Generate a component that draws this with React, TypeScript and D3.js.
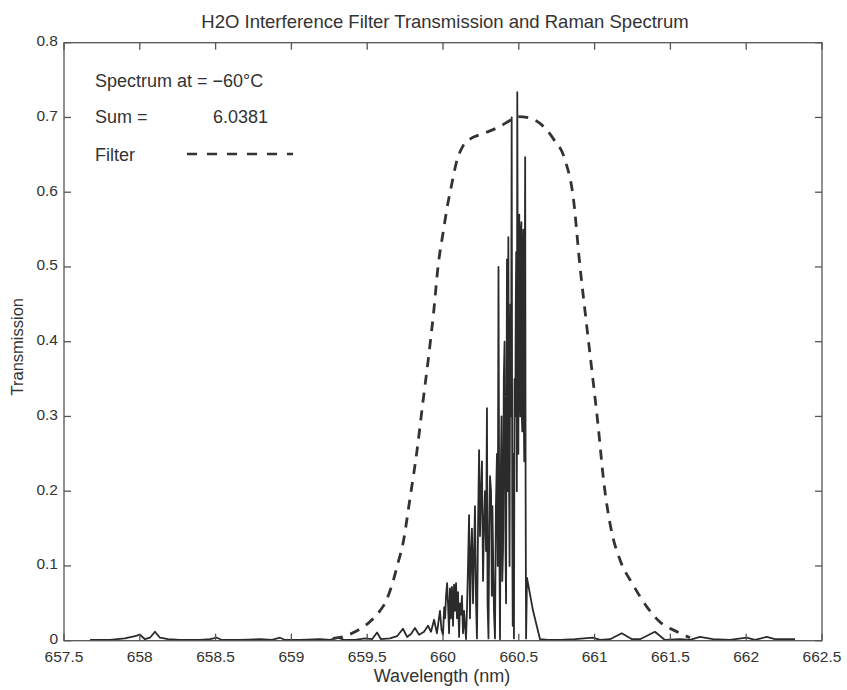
import React from "react";
import * as d3 from "d3";

const title = "H2O Interference Filter Transmission and Raman Spectrum";
const xLabel = "Wavelength (nm)";
const yLabel = "Transmission";
const legendLines = ["Spectrum at = \u221260\u00b0C", "Sum =", "Filter"];
const sumValue = "6.0381";

const xTicks = [657.5, 658, 658.5, 659, 659.5, 660, 660.5, 661, 661.5, 662, 662.5];
const yTicks = [0, 0.1, 0.2, 0.3, 0.4, 0.5, 0.6, 0.7, 0.8];

// Raman spectrum: [wavelength (nm), transmission]
const spectrum: [number, number][] = [
  [657.672, 0.001], [657.803, 0.001], [657.902, 0.003], [657.968, 0.006], [658.001, 0.008],
  [658.034, 0.002], [658.067, 0.004], [658.100, 0.012], [658.133, 0.004], [658.186, 0.002],
  [658.265, 0.001], [658.397, 0.001], [658.463, 0.002], [658.509, 0.004], [658.542, 0.001],
  [658.661, 0.001], [658.793, 0.002], [658.872, 0.001], [658.925, 0.004], [658.958, 0.001],
  [659.057, 0.001], [659.189, 0.002], [659.255, 0.001], [659.307, 0.004], [659.347, 0.001],
  [659.420, 0.001], [659.486, 0.003], [659.532, 0.002], [659.565, 0.011], [659.591, 0.002],
  [659.650, 0.003], [659.697, 0.006], [659.736, 0.016], [659.763, 0.005], [659.789, 0.009],
  [659.815, 0.017], [659.842, 0.008], [659.875, 0.012], [659.901, 0.020], [659.921, 0.012],
  [659.941, 0.028], [659.960, 0.010], [659.980, 0.040], [659.990, 0.015], [660.000, 0.008],
  [660.008, 0.045], [660.014, 0.030], [660.020, 0.060], [660.027, 0.077], [660.033, 0.050],
  [660.040, 0.010], [660.046, 0.070], [660.052, 0.030], [660.059, 0.072], [660.066, 0.020],
  [660.073, 0.075], [660.079, 0.040], [660.086, 0.077], [660.092, 0.030], [660.099, 0.065],
  [660.106, 0.005], [660.112, 0.050], [660.119, 0.035], [660.125, 0.060], [660.132, 0.010],
  [660.139, 0.040], [660.145, 0.020], [660.152, 0.002], [660.158, 0.040], [660.165, 0.100],
  [660.172, 0.168], [660.178, 0.030], [660.185, 0.120], [660.191, 0.150], [660.198, 0.050],
  [660.205, 0.120], [660.211, 0.180], [660.218, 0.050], [660.224, 0.003], [660.231, 0.150],
  [660.238, 0.255], [660.244, 0.140], [660.251, 0.200], [660.257, 0.240], [660.264, 0.080],
  [660.270, 0.150], [660.277, 0.200], [660.284, 0.120], [660.290, 0.311], [660.294, 0.050],
  [660.300, 0.003], [660.305, 0.150], [660.310, 0.220], [660.317, 0.200], [660.322, 0.060],
  [660.326, 0.180], [660.330, 0.120], [660.336, 0.040], [660.343, 0.003], [660.349, 0.180],
  [660.356, 0.250], [660.361, 0.100], [660.366, 0.500], [660.371, 0.150], [660.376, 0.002],
  [660.381, 0.220], [660.386, 0.300], [660.391, 0.080], [660.396, 0.120], [660.401, 0.350],
  [660.406, 0.400], [660.411, 0.150], [660.416, 0.050], [660.419, 0.300], [660.422, 0.510],
  [660.426, 0.200], [660.431, 0.540], [660.435, 0.250], [660.439, 0.100], [660.442, 0.350],
  [660.445, 0.450], [660.449, 0.300], [660.453, 0.700], [660.457, 0.150], [660.460, 0.020],
  [660.464, 0.250], [660.468, 0.003], [660.472, 0.350], [660.477, 0.300], [660.480, 0.450],
  [660.483, 0.520], [660.487, 0.200], [660.490, 0.734], [660.494, 0.400], [660.497, 0.250],
  [660.500, 0.500], [660.503, 0.570], [660.507, 0.350], [660.510, 0.300], [660.514, 0.550],
  [660.517, 0.560], [660.520, 0.300], [660.523, 0.280], [660.527, 0.520], [660.530, 0.550],
  [660.533, 0.300], [660.536, 0.240], [660.539, 0.450], [660.542, 0.647], [660.545, 0.200],
  [660.548, 0.003], [660.554, 0.084], [660.594, 0.040], [660.640, 0.002], [660.693, 0.001],
  [660.772, 0.001], [660.871, 0.002], [660.989, 0.004], [661.036, 0.001], [661.102, 0.002],
  [661.179, 0.010], [661.247, 0.002], [661.300, 0.002], [661.398, 0.012], [661.464, 0.001],
  [661.563, 0.002], [661.629, 0.001], [661.695, 0.005], [661.781, 0.002], [661.893, 0.001],
  [662.003, 0.004], [662.058, 0.001], [662.135, 0.005], [662.190, 0.002], [662.322, 0.002],
];

// Interference filter transmission curve: [wavelength (nm), transmission]
const filter: [number, number][] = [
  [659.274, 0.003], [659.353, 0.006], [659.420, 0.012], [659.486, 0.020], [659.532, 0.028],
  [659.584, 0.040], [659.617, 0.050], [659.664, 0.075], [659.703, 0.104], [659.736, 0.130],
  [659.782, 0.190], [659.829, 0.255], [659.868, 0.320], [659.908, 0.385], [659.941, 0.445],
  [659.967, 0.500], [660.000, 0.545], [660.026, 0.578], [660.059, 0.612], [660.086, 0.638],
  [660.132, 0.662], [660.185, 0.672], [660.244, 0.677], [660.310, 0.682], [660.376, 0.688],
  [660.442, 0.696], [660.488, 0.701], [660.554, 0.700], [660.640, 0.692], [660.726, 0.672],
  [660.805, 0.643], [660.858, 0.595], [660.904, 0.500], [660.943, 0.430], [660.983, 0.360],
  [661.022, 0.290], [661.062, 0.210], [661.108, 0.150], [661.168, 0.108], [661.253, 0.075],
  [661.346, 0.045], [661.431, 0.025], [661.544, 0.012], [661.629, 0.004],
];

const W = 847;
const H = 690;
const plot = { left: 64, right: 822, top: 42.7, bottom: 640.7 };
const font = "'Liberation Sans', Arial, Helvetica, sans-serif";
const ink = "#333";
const axisInk = "#555";

export default function App() {
  const x = d3.scaleLinear().domain([657.5, 662.5]).range([plot.left, plot.right]);
  const y = d3.scaleLinear().domain([0, 0.8]).range([plot.bottom, plot.top]);

  const line = d3
    .line<[number, number]>()
    .x((d) => x(d[0]))
    .y((d) => y(d[1]));
  const smooth = d3
    .line<[number, number]>()
    .x((d) => x(d[0]))
    .y((d) => y(d[1]))
    .curve(d3.curveMonotoneX);

  const tickLen = 7;
  const fmtX = (v: number) => (Number.isInteger(v) ? String(v) : v.toFixed(1));
  const fmtY = (v: number) => (v === 0 ? "0" : v.toFixed(1));

  return (
    <svg
      width={W}
      height={H}
      viewBox={`0 0 ${W} ${H}`}
      style={{ position: "absolute", left: 0, top: 0, background: "#fff" }}
    >
      <rect x={0} y={0} width={W} height={H} fill="#fff" />
      {/* data */}
      <path d={line(spectrum) || ""} fill="none" stroke="#2b2b2b" strokeWidth={1.8} strokeLinejoin="round" />
      <path
        d={smooth(filter) || ""}
        fill="none"
        stroke="#333"
        strokeWidth={2.8}
        strokeDasharray="10 8"
      />

      {/* axes box */}
      <rect
        x={plot.left}
        y={plot.top}
        width={plot.right - plot.left}
        height={plot.bottom - plot.top}
        fill="none"
        stroke={axisInk}
        strokeWidth={1.3}
      />
      {xTicks.map((t) => (
        <g key={"xt" + t}>
          <line x1={x(t)} x2={x(t)} y1={plot.bottom} y2={plot.bottom - tickLen} stroke={axisInk} strokeWidth={1.3} />
          <line x1={x(t)} x2={x(t)} y1={plot.top} y2={plot.top + tickLen} stroke={axisInk} strokeWidth={1.3} />
          <text x={x(t)} y={662} textAnchor="middle" fontFamily={font} fontSize={15.5} fill={ink}>
            {fmtX(t)}
          </text>
        </g>
      ))}
      {yTicks.map((t) => (
        <g key={"yt" + t}>
          <line x1={plot.left} x2={plot.left + tickLen} y1={y(t)} y2={y(t)} stroke={axisInk} strokeWidth={1.3} />
          <line x1={plot.right} x2={plot.right - tickLen} y1={y(t)} y2={y(t)} stroke={axisInk} strokeWidth={1.3} />
          <text x={58} y={y(t) + 3.5} textAnchor="end" fontFamily={font} fontSize={15.5} fill={ink}>
            {fmtY(t)}
          </text>
        </g>
      ))}

      {/* titles */}
      <text x={445} y={28} textAnchor="middle" fontFamily={font} fontSize={18.5} fill={ink}>
        {title}
      </text>
      <text x={442} y={682} textAnchor="middle" fontFamily={font} fontSize={18} fill={ink}>
        {xLabel}
      </text>
      <text
        transform={`translate(23, ${(plot.top + plot.bottom) / 2 + 5}) rotate(-90)`}
        textAnchor="middle"
        fontFamily={font}
        fontSize={16.5}
        fill={ink}
      >
        {yLabel}
      </text>

      {/* legend annotations */}
      <text x={95} y={87} fontFamily={font} fontSize={18} fill={ink}>
        {legendLines[0]}
      </text>
      <text x={95} y={123} fontFamily={font} fontSize={18} fill={ink}>
        {legendLines[1]}
      </text>
      <text x={213} y={123} fontFamily={font} fontSize={18} fill={ink}>
        {sumValue}
      </text>
      <text x={95} y={161} fontFamily={font} fontSize={18} fill={ink}>
        {legendLines[2]}
      </text>
      <line x1={187} x2={293} y1={154} y2={154} stroke="#333" strokeWidth={2.4} strokeDasharray="10 10" />
    </svg>
  );
}
